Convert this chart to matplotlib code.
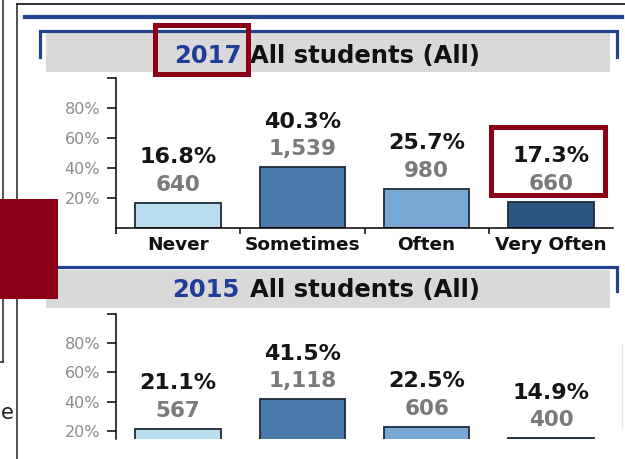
import matplotlib
matplotlib.use("Agg")
import matplotlib.pyplot as plt
from matplotlib.patches import Rectangle

# ---- data ----
categories = ["Never", "Sometimes", "Often", "Very Often"]
pct_2017 = [16.8, 40.3, 25.7, 17.3]
n_2017 = [640, 1539, 980, 660]
pct_2015 = [21.1, 41.5, 22.5, 14.9]
n_2015 = [567, 1118, 606, 400]
ytick_vals = [20, 40, 60, 80, 100]
ytick_labels = ["20%", "40%", "60%", "80%", ""]
bar_colors = ["#BADDF0", "#4A7AAA", "#78A8D4", "#2C5582"]

W, H = 625, 459
fig = plt.figure(figsize=(W / 100, H / 100), dpi=100)
fig.patch.set_facecolor("white")

BLUE = "#22428E"
DARKRED = "#8B0016"
GRAYBAND = "#D9D9D9"


def pix_axes(z):
    a = fig.add_axes([0, 0, 1, 1], zorder=z)
    a.set_xlim(0, W)
    a.set_ylim(H, 0)
    a.axis("off")
    a.patch.set_alpha(0)
    return a


bg = pix_axes(0)

# outer frame lines
bg.plot([17, 625], [4, 4], color="#222222", lw=1.3)
bg.plot([2.5, 2.5], [0, 362], color="#222222", lw=1.1)
bg.plot([0, 2.5], [362, 362], color="#222222", lw=1.1)
bg.plot([17, 17], [4, 459], color="#222222", lw=1.1)
bg.plot([622, 622], [345, 428], color="#E6E6E6", lw=1)
bg.text(1, 413, "e", ha="left", va="center", fontsize=15, color="#222222")

# top chart header
bg.plot([25, 622], [17, 17], color=BLUE, lw=3)
bg.add_patch(Rectangle((46, 33), 564, 39, facecolor=GRAYBAND, edgecolor="none"))
bg.plot([40, 40, 617, 617], [57, 31, 31, 57], color=BLUE, lw=2.3, solid_joinstyle="miter")
bg.text(241, 56, "2017", ha="right", va="center", fontsize=17.5, fontweight="bold", color="#1F3C96")
bg.text(250, 56, "All students (All)", ha="left", va="center", fontsize=17.5, fontweight="bold", color="#111111")

# second chart header
bg.add_patch(Rectangle((46, 270), 564, 38, facecolor=GRAYBAND, edgecolor="none"))
bg.plot([40, 40, 617, 617], [291, 267, 267, 291], color=BLUE, lw=2.3, solid_joinstyle="miter")
bg.text(239, 290, "2015", ha="right", va="center", fontsize=17.5, fontweight="bold", color="#1F3C96")
bg.text(250, 290, "All students (All)", ha="left", va="center", fontsize=17.5, fontweight="bold", color="#111111")


def make_chart(top_px, bot_px, ymin, pcts, counts, show_x):
    ax = fig.add_axes([116 / W, 1 - bot_px / H, (613 - 116) / W, (bot_px - top_px) / H], zorder=2)
    ax.patch.set_alpha(0)
    x = list(range(len(categories)))
    ax.bar(x, pcts, width=0.69, color=bar_colors, edgecolor="#1E2B3A", linewidth=1.3, zorder=2)
    ax.set_xlim(-0.5, 3.5)
    ax.set_ylim(ymin, 100)
    for s in ["top", "right"]:
        ax.spines[s].set_visible(False)
    ax.spines["left"].set_linewidth(1.1)
    ax.spines["bottom"].set_linewidth(1.1)
    ax.set_yticks(ytick_vals)
    ax.set_yticklabels(ytick_labels)
    ax.tick_params(axis="y", length=6.5, width=1.1, pad=5, labelsize=11.5, labelcolor="#8C8C8C")
    if show_x:
        ax.set_xticks(x)
        ax.set_xticklabels(categories, fontsize=13.3, fontweight="bold", color="#111111")
        ax.tick_params(axis="x", which="major", length=0, pad=6)
        ax.set_xticks([-0.5, 0.5, 1.5, 2.5], minor=True)
        ax.tick_params(axis="x", which="minor", length=4, width=1.1)
    else:
        ax.spines["bottom"].set_visible(False)
        ax.set_xticks([])
    for i, (p, n) in enumerate(zip(pcts, counts)):
        ax.annotate(f"{n:,}", xy=(i, p), xytext=(0, 13), textcoords="offset points",
                    ha="center", va="center", fontsize=15.5, fontweight="bold",
                    color="#7A7A7A", zorder=3)
        ax.annotate(f"{p:.1f}%", xy=(i, p), xytext=(0, 33), textcoords="offset points",
                    ha="center", va="center", fontsize=16, fontweight="bold",
                    color="#151515", zorder=3)
    return ax


make_chart(77.5, 228, 0, pct_2017, n_2017, True)
make_chart(313.5, 439, 14.5, pct_2015, n_2015, False)

fg = pix_axes(10)
fg.add_patch(Rectangle((0, 199), 58, 100, facecolor=DARKRED, edgecolor="none"))
fg.add_patch(Rectangle((154.5, 24.5), 93, 49, facecolor="none", edgecolor=DARKRED, lw=3.6))
fg.add_patch(Rectangle((490.5, 126.5), 114, 68, facecolor="none", edgecolor=DARKRED, lw=3.6))

fig.savefig("out.png", dpi=100, facecolor="white")
